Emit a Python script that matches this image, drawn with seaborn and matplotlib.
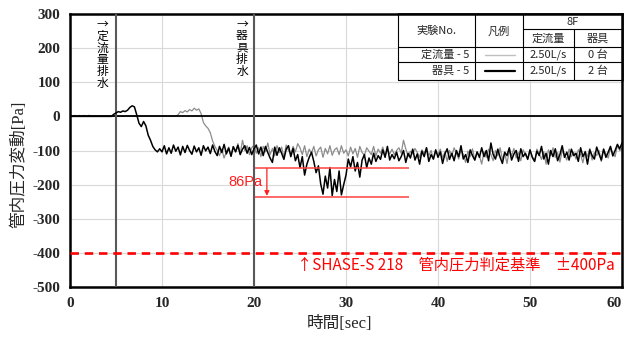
import numpy as np
import pandas as pd
import matplotlib
matplotlib.use("Agg")
import matplotlib.pyplot as plt
from matplotlib.patches import Rectangle
import seaborn as sns

# Sampling interval of the pressure logger [s]
SAMPLE_DT = 0.25

# 器具 - 5 : pressure fluctuation [Pa], one value per 0.25 s (0 ... 60 s)
fixture_5 = [
    0, 0, 0, 0, 0, 0, 0, 0, 0, 0, 0, 0, 0, 0, 0, 0, 0, 0, 0, 6,
    10, 14, 12, 16, 14, 18, 26, 31, 28, 5, -20, -30, -15, -28, -55, -70, -88, -98, -104, -95,
    -104, -86, -110, -92, -108, -84, -102, -90, -113, -88, -106, -85, -100, -111, -87, -104, -92, -114, -86, -101,
    -90, -109, -84, -103, -115, -88, -106, -82, -110, -93, -117, -89, -104, -85, -112, -96, -86, -108, -91, -112,
    -95, -84, -110, -90, -115, -88, -106, -122, -135, -90, -114, -92, -108, -126, -96, -86, -118, -94, -130, -112,
    -150, -118, -172, -140, -120, -105, -132, -165, -145, -198, -228, -175, -210, -150, -232, -185, -220, -160, -230, -200,
    -172, -125, -148, -118, -160, -135, -178, -128, -112, -150, -122, -140, -108, -132, -115, -126, -98, -120, -88, -128,
    -112, -124, -105, -130, -118, -100, -135, -108, -122, -96, -128, -110, -140, -102, -118, -92, -132, -112, -125, -98,
    -120, -104, -138, -110, -95, -126, -108, -130, -100, -118, -86, -125, -112, -135, -98, -115, -128, -104, -120, -92,
    -118, -100, -130, -78, -112, -125, -96, -120, -138, -105, -115, -92, -128, -110, -100, -132, -95, -118, -108, -126,
    -98, -120, -132, -102, -115, -88, -125, -108, -140, -100, -118, -95, -130, -112, -86, -120, -105, -128, -96, -115,
    -108, -132, -92, -118, -104, -140, -98, -115, -125, -90, -110, -128, -96, -120, -105, -88, -116, -100, -82, -95,
    -78,
]

# 定流量 - 5 : pressure fluctuation [Pa], same sampling
steady_5 = [
    0, 0, 3, 0, 3, 0, 3, 0, 3, 2, 0, 0, 0, 0, 0, 0, 0, 0, 0, 0,
    0, 0, 0, 0, 0, 0, 0, 0, 0, 0, 0, 0, 0, 0, 0, 0, 0, 0, 0, 0,
    0, 0, 0, 0, 0, 0, 0, 5, 14, 11, 17, 13, 20, 16, 24, 18, 22, 8, -18, -28,
    -35, -48, -72, -88, -100, -115, -96, -122, -104, -90, -116, -88, -104, -80, -110, -70, -100, -86, -112, -92,
    -84, -108, -92, -118, -88, -104, -78, -112, -94, -116, -86, -106, -90, -120, -84, -100, -110, -88, -104, -80,
    -92, -112, -86, -118, -96, -108, -88, -116, -98, -90, -120, -94, -110, -86, -114, -98, -92, -112, -86, -108,
    -98, -116, -90, -110, -94, -120, -88, -106, -114, -92, -102, -112, -88, -116, -96, -108, -90, -114, -98, -110,
    -96, -112, -100, -92, -108, -70, -95, -118, -102, -110, -94, -106, -120, -98, -108, -92, -115, -100, -126, -104,
    -110, -96, -122, -104, -132, -100, -115, -92, -108, -125, -98, -112, -135, -102, -118, -95, -128, -106, -115, -140,
    -104, -120, -96, -112, -130, -100, -116, -92, -125, -108, -138, -100, -115, -94, -122, -106, -130, -98, -112, -124,
    -100, -118, -132, -96, -110, -126, -104, -140, -98, -115, -92, -120, -106, -134, -100, -112, -128, -96, -118, -105,
    -125, -98, -112, -136, -102, -118, -94, -128, -106, -115, -100, -132, -96, -110, -122, -92, -108, -118, -85, -100,
    -95,
]

time_s = np.arange(len(fixture_5)) * SAMPLE_DT

# Event markers and reference values
event_times = [5, 20]
event_labels = ["→\n定\n流\n量\n排\n水", "→\n器\n具\n排\n水"]
criterion = -400
criterion_label = "↑SHASE-S 218　管内圧力判定基準　±400Pa"
band_start, band_end = 20.1, 36.8
band_upper = -150
band_diff = 86
band_lower = band_upper - band_diff

x_ticks = [0, 10, 20, 30, 40, 50, 60]
y_ticks = [-500, -400, -300, -200, -100, 0, 100, 200, 300]

# Legend table contents
table_header = ["実験No.", "凡例", "8F", "定流量", "器具"]
table_names = ["定流量 - 5", "器具 - 5"]
table_flow = ["2.50L/s", "2.50L/s"]
table_count = ["0 台", "2 台"]

df = pd.DataFrame({"time": time_s, "steady": steady_5, "fixture": fixture_5})

sns.set_theme(style="white")
plt.rcParams["font.family"] = ["Noto Sans CJK JP", "DejaVu Sans"]
serif_cjk = ["Liberation Serif", "Noto Sans CJK JP"]

W, H = 626, 338
fig = plt.figure(figsize=(W / 100, H / 100), dpi=100)
ax = fig.add_axes([70 / W, 1 - 287 / H, 552 / W, 273 / H])

GRAY = "#8c8c8c"
sns.lineplot(data=df, x="time", y="steady", ax=ax, color=GRAY, lw=0.9, zorder=2)
ax.axhline(0, color="black", lw=1.3, zorder=2.5)
sns.lineplot(data=df, x="time", y="fixture", ax=ax, color="black", lw=1.1, zorder=3)

for t in event_times:
    ax.axvline(t, color="#595959", lw=1.5, zorder=2.6)

# 86 Pa band
RED_LINE = "#ff4040"
ax.hlines([band_upper, band_lower], band_start, band_end, color=RED_LINE, lw=1.1, zorder=4)
ax.annotate("", xy=(21.4, band_lower + 3), xytext=(21.4, band_upper - 4),
            arrowprops=dict(arrowstyle="-|>", color="#ff2020", lw=0.9,
                            mutation_scale=7, shrinkA=0, shrinkB=0), zorder=4)
ax.text(20.9, (band_upper + band_lower) / 2, f"{band_diff}Pa", color="#ff2020",
        fontsize=10.5, ha="right", va="center", family=["Liberation Sans"])

# Criterion line
ax.axhline(criterion, color="#ff0000", lw=1.9, ls=(0, (3.2, 2.2)), zorder=4)
ax.text(24.7, criterion - 36, criterion_label, color="#ff0000", fontsize=11,
        ha="left", va="center")

# Event labels written vertically
ax.text(3.55, 290, event_labels[0], fontsize=8.5, ha="center", va="top",
        linespacing=0.9, color="black")
ax.text(18.7, 290, event_labels[1], fontsize=8.5, ha="center", va="top",
        linespacing=0.9, color="black")

ax.set_xlim(0, 60)
ax.set_ylim(-500, 300)
ax.set_xticks(x_ticks)
ax.set_yticks(y_ticks)
ax.set_xticklabels([str(v) for v in x_ticks], family="Liberation Serif",
                   fontweight="bold", fontsize=11)
ax.set_yticklabels([str(v) for v in y_ticks], family="Liberation Serif",
                   fontweight="bold", fontsize=11)
ax.get_xticklabels()[-1].set_ha("right")
ax.tick_params(length=0, pad=7)
ax.grid(True, color="#d9d9d9", lw=0.8)
ax.set_axisbelow(True)
for s in ax.spines.values():
    s.set_color("black")
    s.set_linewidth(1.8)

ax.set_xlabel("時間[sec]", fontsize=12, family=serif_cjk)
ax.set_ylabel("管内圧力変動[Pa]", fontsize=12, family=serif_cjk)
ax.xaxis.set_label_coords(0.489, -0.105)
ax.yaxis.set_label_coords(-0.078, 0.45)

# Legend table in the upper-right corner
tab = fig.add_axes([398 / W, 1 - 80 / H, 224 / W, 66 / H])
tab.set_xlim(0, 224)
tab.set_ylim(66, 0)
tab.axis("off")
tab.add_patch(Rectangle((0, 0), 224, 66, facecolor="white", edgecolor="none"))
lw_t = 0.8
tab.plot([0, 224], [33, 33], color="black", lw=lw_t, clip_on=False)
tab.plot([0, 224], [48, 48], color="black", lw=lw_t, clip_on=False)
tab.plot([0, 224], [66, 66], color="black", lw=lw_t, clip_on=False)
tab.plot([125, 224], [15, 15], color="black", lw=lw_t, clip_on=False)
tab.plot([0, 0], [0, 66], color="black", lw=lw_t, clip_on=False)
tab.plot([77, 77], [0, 66], color="black", lw=lw_t, clip_on=False)
tab.plot([125, 125], [0, 66], color="black", lw=lw_t, clip_on=False)
tab.plot([176, 176], [15, 66], color="black", lw=lw_t, clip_on=False)
tab.plot([0, 224], [0, 0], color="black", lw=1.8, clip_on=False)
tab.plot([224, 224], [0, 66], color="black", lw=1.8, clip_on=False)

fs_t = 8
tab.text(38.5, 17, table_header[0], fontsize=fs_t, ha="center", va="center")
tab.text(101, 17, table_header[1], fontsize=fs_t, ha="center", va="center")
tab.text(174.5, 8, table_header[2], fontsize=fs_t, ha="center", va="center")
tab.text(150.5, 24.5, table_header[3], fontsize=fs_t, ha="center", va="center")
tab.text(200, 24.5, table_header[4], fontsize=fs_t, ha="center", va="center")
sample_styles = [dict(color="#c0c0c0", lw=1.0), dict(color="black", lw=1.6)]
for i, yc in enumerate([40.5, 57]):
    tab.text(71, yc, table_names[i], fontsize=fs_t, ha="right", va="center")
    tab.plot([87, 117], [yc, yc], **sample_styles[i])
    tab.text(150.5, yc, table_flow[i], fontsize=fs_t, ha="center", va="center")
    tab.text(200, yc, table_count[i], fontsize=fs_t, ha="center", va="center")

fig.savefig("out.png", dpi=100)
